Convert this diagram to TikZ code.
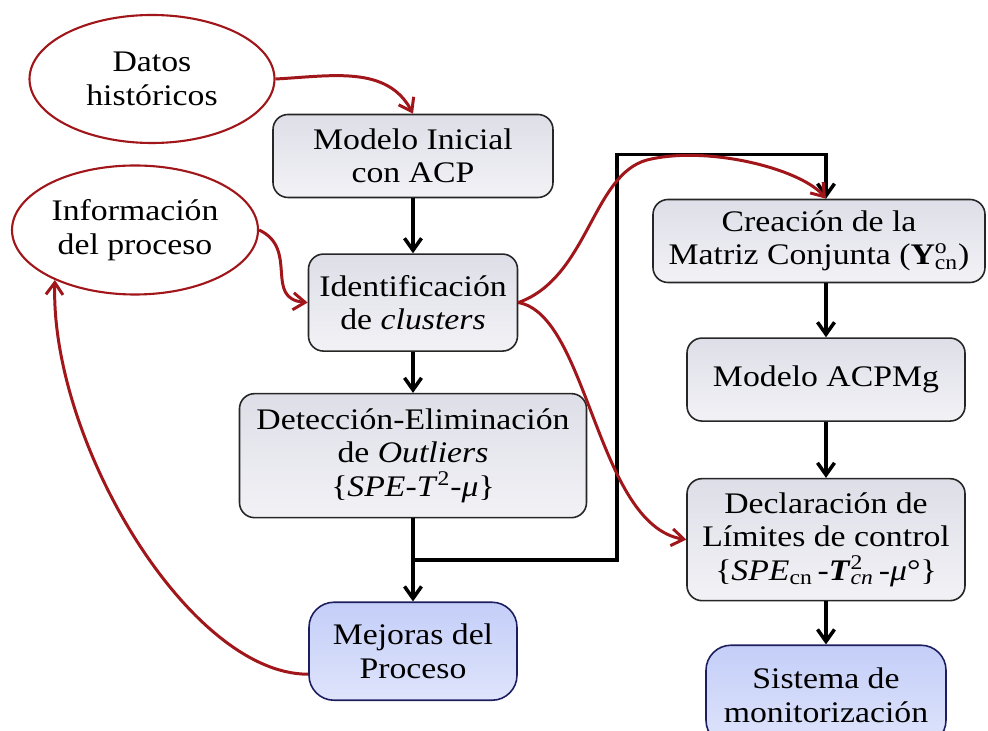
\documentclass[tikz,border=0pt]{standalone}
\usepackage{fontspec}
\setmainfont{Liberation Serif}[FakeStretch=1.13]
\usetikzlibrary{positioning, arrows.meta, shapes.geometric, calc}
\definecolor{rojo}{RGB}{160,22,26}
\definecolor{grisbox}{RGB}{222,222,232}
\definecolor{azulbox}{RGB}{196,206,248}
\definecolor{azulborde}{RGB}{28,30,96}
\tikzset{%
  eda/.style={-{Straight Barb[length=2.4mm,width=3.4mm]}, line width=2pt, black},
  edr/.style={-{Straight Barb[length=2.4mm,width=3.4mm]}, line width=1.7pt, rojo},
  bx/.style={draw=black!85, line width=0.9pt, rounded corners=3mm, align=center,
    inner sep=2pt, top color=grisbox, bottom color=grisbox!40!white,
    font=\fontsize{17}{19}\selectfont},
  fin/.style={bx, draw=azulborde, rounded corners=5mm, top color=azulbox,
    bottom color=azulbox!55!white},
  src/.style={draw=rojo, line width=1.2pt, ellipse, align=center, inner sep=0pt,
    font=\fontsize{17}{19}\selectfont}
}

\begin{document}
\begin{tikzpicture}
        \useasboundingbox (0,0) rectangle (19.76,-14.62);
        \node[src] (1)  at (3.04,-1.58) [minimum width=4.9cm, minimum height=2.56cm]  {Datos\\históricos};
        \node[src] (2)  at (2.7,-4.6)   [minimum width=4.92cm, minimum height=2.58cm] {Información\\del proceso};
        \node[bx]  (3)  at (8.26,-3.12) [minimum width=5.6cm, minimum height=1.66cm]  {Modelo Inicial\\con ACP};
        \node[bx]  (4)  [below = 11mm of 3, minimum width=4.18cm, minimum height=1.94cm] {Identificación\\de \textit{clusters}};
        \node[bx]  (5)  [below = 8.2mm of 4, minimum width=6.94cm, minimum height=2.48cm] {Detección-Eliminación\\de \textit{Outliers}\\\{\textit{SPE}-\textit{T}\textsuperscript{2}-\textit{μ}\}};
        \node[fin] (6)  [below = 16.6mm of 5, minimum width=4.16cm, minimum height=1.96cm] {Mejoras del\\Proceso};
        \node[bx]  (7)  at (16.38,-4.82) [minimum width=6.64cm, minimum height=1.66cm] {Creación de la\\Matriz Conjunta (\textbf{Y}\rlap{\textsuperscript{o}}\textsubscript{cn})};
        \node[bx]  (8)  [below = 10.8mm of 7, xshift=1.4mm, minimum width=5.56cm, minimum height=1.66cm] {Modelo ACPMg};
        \node[bx]  (9)  [below = 11.2mm of 8, minimum width=5.56cm, minimum height=2.44cm] {Declaración de\\Límites de control\\\{\textit{SPE}\textsubscript{cn}\,-\textbf{\textit{T}}\rlap{\textsuperscript{2}}\textsubscript{\textit{cn}}\,-\textit{μ}°\}};
        \node[fin] (10) [below = 8.6mm of 9, minimum width=4.8cm, minimum height=2.0cm] {Sistema de\\monitorización};
        \coordinate (s) at ($(5.south)!0.5!(6.north)$);
        \path[eda]
        (3) edge (4)
        (4) edge (5)
        (5) edge (6)
        (8) edge (9)
        (9) edge (10);
        \draw[eda] (7.south -| 8) -- (8);
        % retorno hacia la matriz conjunta
        \draw[eda] (s) -- ++(4.08,0) |- ([xshift=1.4mm, yshift=8.8mm]7.north) -- ([xshift=1.4mm]7.north);
        % flechas rojas
        \draw[edr] (1.east) to[out=3, in=118] (3.north);
        \draw[edr] (2.east) to[out=-25, in=175, looseness=1.3] (4.west);
        \draw[edr] (4.east) .. controls +(1.4,0.5) and +(-1.1,-0.3) .. (12.94,-3.2)
                            .. controls +(1.2,0.3) and +(-0.5,0.6) .. ([xshift=1.4mm]7.north);
        \draw[edr] (4.east) .. controls +(1.4,-0.24) and +(-1.8,0.3) .. (9.west);
        \draw[edr] ([yshift=-4.6mm]6.west) .. controls +(-2.4,0) and +(-0.1,-3.2) .. (2.-148);
\end{tikzpicture}
\end{document}
